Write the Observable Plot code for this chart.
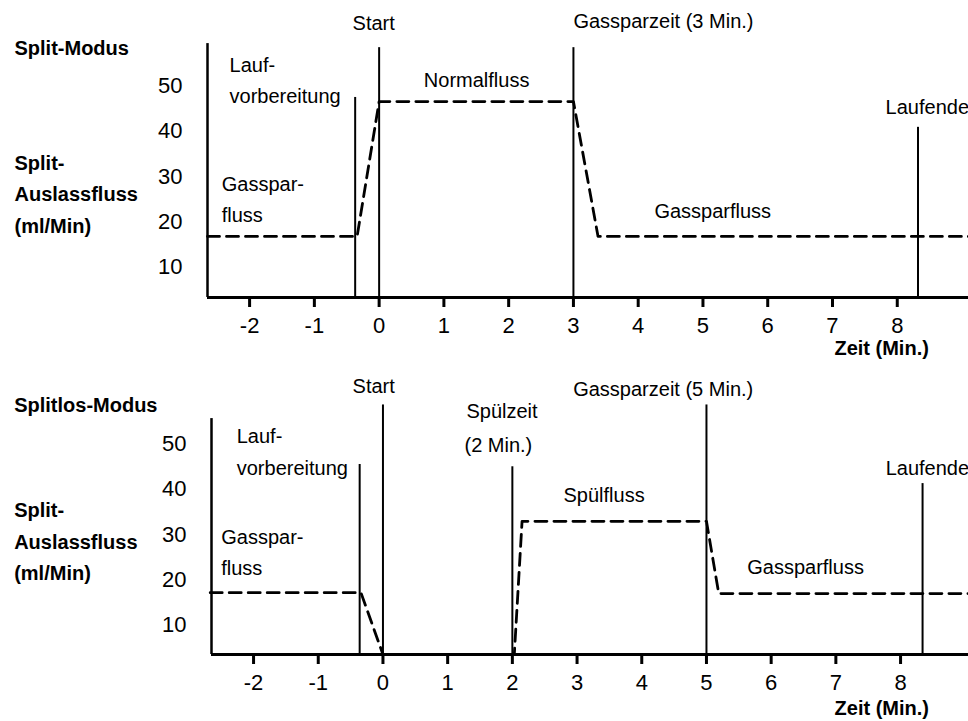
<!DOCTYPE html>
<html><head><meta charset="utf-8">
<script src="https://cdn.jsdelivr.net/npm/d3@7"></script>
<script src="https://cdn.jsdelivr.net/npm/@observablehq/plot@0.6"></script>
<style>
body{margin:0;background:#fff}
#chart svg{display:block}
</style>
</head><body><div id="chart"></div>
<script>
// ---- shared ticks ----
const xTicks = [-2,-1,0,1,2,3,4,5,6,7,8];
const yTicks = [10,20,30,40,50];

// ---- Split-Modus panel ----
const splitFlowTime  = [-2.65,-0.34,0,3,3.38,9.1];
const splitFlowValue = [16.8,16.8,46.6,46.6,16.8,16.8];
const splitEventTime = [-0.37,0,3,8.32];
const splitEventTop  = [47.5,58.5,58.5,40.9];
const splitText  = ["Start","Gassparzeit (3 Min.)","Lauf-","vorbereitung","Gasspar-","fluss","Normalfluss","Gassparfluss","Laufende"];
const splitTextX = [-0.41,3.0,-2.31,-2.31,-2.43,-2.43,0.69,4.25,7.82];
const splitTextY = [63.8,64.3,54.6,47.7,28.3,21.4,51.2,22.3,45.3];
const splitBold  = ["Split-Modus","Split-","Auslassfluss","(ml/Min)","Zeit (Min.)"];
const splitBoldX = [-5.63,-5.63,-5.63,-5.63,7.03];
const splitBoldY = [58.3,32.9,26.1,19.0,-8.0];

// ---- Splitlos-Modus panel ----
const splitlessFlowTime  = [-2.67,-0.34,0,2.03,2.15,5.0,5.19,9.05];
const splitlessFlowValue = [17.2,17.2,3.6,3.6,32.9,32.9,17.0,17.0];
const splitlessEventTime = [-0.36,0,2.0,5.0,8.34];
const splitlessEventTop  = [45.4,58.5,44.9,58.5,41.2];
const splitlessText  = ["Start","Gassparzeit (5 Min.)","Lauf-","vorbereitung","Gasspar-","fluss","Spülzeit","(2 Min.)","Spülfluss","Gassparfluss","Laufende"];
const splitlessTextX = [-0.47,2.94,-2.26,-2.26,-2.50,-2.50,1.29,1.26,2.79,5.63,7.77];
const splitlessTextY = [62.5,61.8,51.5,44.5,29.3,22.5,57.0,49.5,38.5,22.7,44.5];
const splitlessBold  = ["Splitlos-Modus","Split-","Auslassfluss","(ml/Min)","Zeit (Min.)"];
const splitlessBoldX = [-5.70,-5.70,-5.70,-5.70,6.98];
const splitlessBoldY = [58.3,35.2,28.2,21.4,-8.3];

const FONT = "'Liberation Sans',Arial,sans-serif";
const FS = 20;
const TICK_FS = 22;

function zipXY(xs, ys) { return xs.map((x, i) => ({x, y: ys[i]})); }
function zipText(t, xs, ys) { return t.map((s, i) => ({text: s, x: xs[i], y: ys[i]})); }

function panel(cfg) {
  const flow = zipXY(cfg.flowTime, cfg.flowValue);
  const events = cfg.eventTime.map((x, i) => ({x, top: cfg.eventTop[i]}));
  const labels = zipText(cfg.text, cfg.textX, cfg.textY);
  const bold = zipText(cfg.bold, cfg.boldX, cfg.boldY);
  const yMin = cfg.yDomain[0];
  return Plot.plot({
    width: 968,
    height: cfg.height,
    marginLeft: cfg.marginLeft,
    marginRight: 0,
    marginTop: cfg.marginTop,
    marginBottom: cfg.marginBottom,
    style: {fontFamily: FONT, fontSize: FS + "px", color: "#000", background: "#fff", overflow: "visible"},
    x: {domain: cfg.xDomain},
    y: {domain: cfg.yDomain},
    marks: [
      Plot.line(flow, {x: "x", y: "y", stroke: "#000", strokeWidth: 2.8, strokeDasharray: "12,7"}),
      Plot.ruleY([yMin], {stroke: "#000", strokeWidth: 3}),
      Plot.ruleX([cfg.xDomain[0]], {y1: yMin, y2: cfg.axisTop, stroke: "#000", strokeWidth: 2.5}),
      Plot.ruleX(events, {x: "x", y1: yMin, y2: "top", stroke: "#000", strokeWidth: 2}),
      Plot.axisX({ticks: xTicks, tickSize: 10, tickPadding: 10, strokeWidth: 3, fontSize: TICK_FS, label: null, tickFormat: d => String(d)}),
      Plot.axisY({ticks: yTicks, tickSize: 0, tickPadding: cfg.yPad, fontSize: TICK_FS, label: null, tickFormat: d => String(d)}),
      Plot.text(labels, {x: "x", y: "y", text: "text", textAnchor: "start", lineAnchor: "middle", fontSize: FS, fill: "#000"}),
      Plot.text(bold, {x: "x", y: "y", text: "text", textAnchor: "start", lineAnchor: "middle", fontSize: FS, fontWeight: "bold", fill: "#000"})
    ]
  });
}

const root = document.getElementById("chart");
root.append(panel({
  height: 360, marginLeft: 207, marginTop: 44, marginBottom: 63, yPad: 25,
  xDomain: [-2.65, 9.1], yDomain: [3.3, 59.2], axisTop: 59.4,
  flowTime: splitFlowTime, flowValue: splitFlowValue,
  eventTime: splitEventTime, eventTop: splitEventTop,
  text: splitText, textX: splitTextX, textY: splitTextY,
  bold: splitBold, boldX: splitBoldX, boldY: splitBoldY
}));
root.append(panel({
  height: 361, marginLeft: 211, marginTop: 44, marginBottom: 67, yPad: 25,
  xDomain: [-2.65, 9.05], yDomain: [3.6, 58.6], axisTop: 55.5,
  flowTime: splitlessFlowTime, flowValue: splitlessFlowValue,
  eventTime: splitlessEventTime, eventTop: splitlessEventTop,
  text: splitlessText, textX: splitlessTextX, textY: splitlessTextY,
  bold: splitlessBold, boldX: splitlessBoldX, boldY: splitlessBoldY
}));
</script>
</body></html>
